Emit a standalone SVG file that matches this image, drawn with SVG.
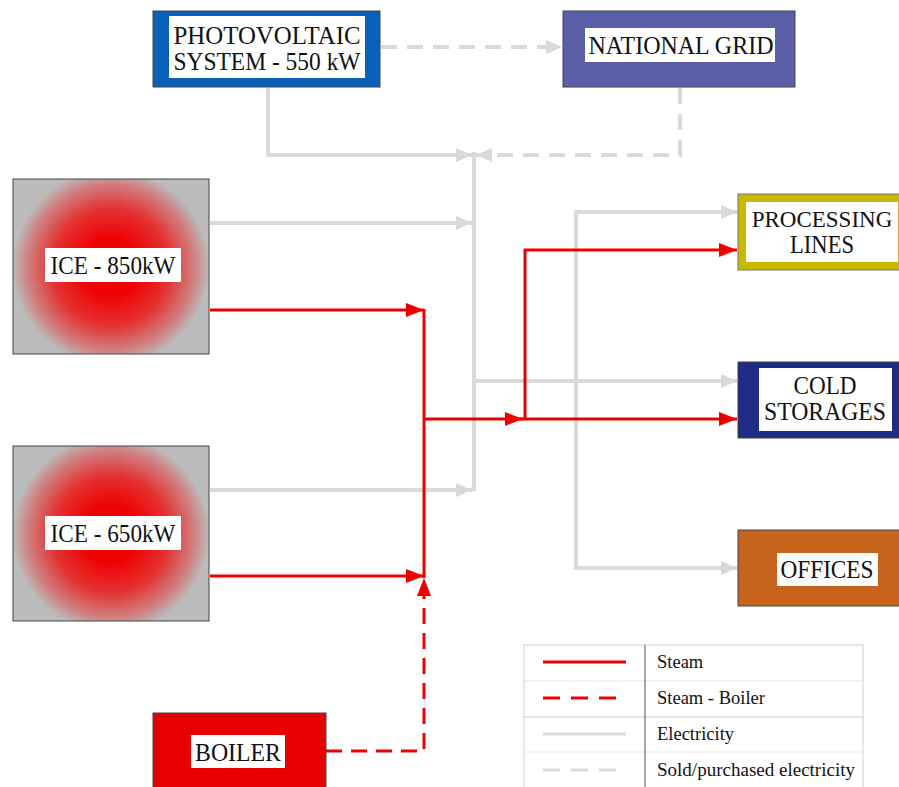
<svg xmlns="http://www.w3.org/2000/svg" width="899" height="787" viewBox="0 0 899 787">
<defs>
<radialGradient id="ice1" gradientUnits="userSpaceOnUse" cx="111" cy="267" r="98">
<stop offset="0" stop-color="#ee0000"/>
<stop offset="0.3" stop-color="#ee0303"/>
<stop offset="0.6" stop-color="#e43232"/>
<stop offset="0.85" stop-color="#d07f7f"/>
<stop offset="1" stop-color="#bbbbbb"/>
</radialGradient>
<radialGradient id="ice2" gradientUnits="userSpaceOnUse" cx="111" cy="534" r="98">
<stop offset="0" stop-color="#ee0000"/>
<stop offset="0.3" stop-color="#ee0303"/>
<stop offset="0.6" stop-color="#e43232"/>
<stop offset="0.85" stop-color="#d07f7f"/>
<stop offset="1" stop-color="#bbbbbb"/>
</radialGradient>
<marker id="ag" viewBox="0 0 16 14" refX="16" refY="7" markerWidth="16" markerHeight="14" markerUnits="userSpaceOnUse" orient="auto">
<path d="M0,0 L16,7 L0,14 Z" fill="#d9d9d9"/>
</marker>
<marker id="ar" viewBox="0 0 18 14" refX="18" refY="7" markerWidth="18" markerHeight="14" markerUnits="userSpaceOnUse" orient="auto">
<path d="M0,0 L18,7 L0,14 Z" fill="#ee0000"/>
</marker>
</defs>
<style>
.box{stroke:#444;stroke-width:1}
.lbl{fill:#fff}
.t{font-family:"Liberation Serif","Times New Roman",serif;font-size:25px;fill:#111;text-anchor:middle}
.lg{font-family:"Liberation Serif","Times New Roman",serif;font-size:18.5px;fill:#111}
.el{fill:none;stroke:#d9d9d9;stroke-width:4}
.eld{fill:none;stroke:#d9d9d9;stroke-width:4;stroke-dasharray:16 10}
.st{fill:none;stroke:#ee0000;stroke-width:3}
.std{fill:none;stroke:#ee0000;stroke-width:3;stroke-dasharray:16 9}
</style>
<rect width="899" height="787" fill="#fff"/>

<g id="connectors">
<path class="eld" d="M381,47 H562" marker-end="url(#ag)"/>
<path class="el" d="M268,88 V155 H472" marker-end="url(#ag)"/>
<path class="eld" d="M680,88 V155 H476" marker-end="url(#ag)"/>
<path class="el" d="M474,152 V491"/>
<path class="el" d="M210,223 H472" marker-end="url(#ag)"/>
<path class="el" d="M210,490 H472" marker-end="url(#ag)"/>
<path class="el" d="M474,381 H737" marker-end="url(#ag)"/>
<path class="el" d="M737,212 H576 V568 H737" marker-end="url(#ag)"/>
<path class="el" d="M576,212 H737" marker-end="url(#ag)"/>
<path class="st" d="M210,310 H424" marker-end="url(#ar)"/>
<path class="st" d="M210,576 H424" marker-end="url(#ar)"/>
<path class="st" d="M424,309 V578"/>
<path class="st" d="M424,419 H523" marker-end="url(#ar)"/>
<path class="st" d="M520,419 H737" marker-end="url(#ar)"/>
<path class="st" d="M525,420 V250 H737" marker-end="url(#ar)"/>
<path class="std" d="M326,751 H424 V578" marker-end="url(#ar)"/>
</g>

<g id="pv">
<rect class="box" x="153" y="11" width="227" height="76" fill="#0a62b8"/>
<rect class="lbl" x="169" y="16" width="196" height="62"/>
<text class="t" x="267" y="44" textLength="187" lengthAdjust="spacingAndGlyphs">PHOTOVOLTAIC</text>
<text class="t" x="267" y="70" textLength="187" lengthAdjust="spacingAndGlyphs">SYSTEM - 550 kW</text>
</g>
<g id="grid">
<rect class="box" x="563" y="11" width="232" height="76" fill="#5a5fa8"/>
<rect class="lbl" x="585" y="28" width="190" height="34"/>
<text class="t" x="681" y="54" textLength="185" lengthAdjust="spacingAndGlyphs">NATIONAL GRID</text>
</g>
<g id="ice850">
<rect class="box" x="13" y="179" width="196" height="175" fill="url(#ice1)"/>
<rect class="lbl" x="45" y="248" width="136" height="34"/>
<text class="t" x="113" y="274" textLength="125" lengthAdjust="spacingAndGlyphs">ICE - 850kW</text>
</g>
<g id="ice650">
<rect class="box" x="13" y="446" width="196" height="175" fill="url(#ice2)"/>
<rect class="lbl" x="45" y="516" width="136" height="34"/>
<text class="t" x="113" y="542" textLength="125" lengthAdjust="spacingAndGlyphs">ICE - 650kW</text>
</g>
<g id="boiler">
<rect class="box" x="153" y="713" width="173" height="80" fill="#e60000"/>
<rect class="lbl" x="191" y="735" width="94" height="33"/>
<text class="t" x="238" y="761" textLength="86" lengthAdjust="spacingAndGlyphs">BOILER</text>
</g>
<g id="processing">
<rect x="738" y="194" width="165" height="76" fill="#c9b800" stroke="#777" stroke-width="1"/>
<rect class="lbl" x="746" y="202" width="152" height="60"/>
<text class="t" x="822" y="227" style="font-size:23px">PROCESSING</text>
<text class="t" x="822" y="253" textLength="64" lengthAdjust="spacingAndGlyphs">LINES</text>
</g>
<g id="cold">
<rect class="box" x="738" y="362" width="165" height="76" fill="#1f2b85"/>
<rect class="lbl" x="759" y="368" width="133" height="63"/>
<text class="t" x="825" y="394" textLength="63" lengthAdjust="spacingAndGlyphs">COLD</text>
<text class="t" x="825" y="420" textLength="122" lengthAdjust="spacingAndGlyphs">STORAGES</text>
</g>
<g id="offices">
<rect class="box" x="738" y="530" width="165" height="76" fill="#c8631b"/>
<rect class="lbl" x="777" y="553" width="101" height="33"/>
<text class="t" x="827" y="578" textLength="93" lengthAdjust="spacingAndGlyphs">OFFICES</text>
</g>

<g id="legend">
<rect x="524" y="645" width="339" height="150" fill="#fff" stroke="#d0d0d0" stroke-width="1"/>
<line x1="524" y1="681" x2="863" y2="681" stroke="#e4e4e4"/>
<line x1="524" y1="717" x2="863" y2="717" stroke="#c8c8c8"/>
<line x1="524" y1="752" x2="863" y2="752" stroke="#e4e4e4"/>
<line x1="645" y1="645" x2="645" y2="787" stroke="#555" stroke-width="1"/>
<line x1="543" y1="662" x2="626" y2="662" stroke="#ee0000" stroke-width="3"/>
<line x1="543" y1="698" x2="626" y2="698" stroke="#ee0000" stroke-width="3" stroke-dasharray="17 11"/>
<line x1="543" y1="734" x2="626" y2="734" stroke="#d9d9d9" stroke-width="3"/>
<line x1="543" y1="770" x2="626" y2="770" stroke="#d9d9d9" stroke-width="3" stroke-dasharray="17 11"/>
<text class="lg" x="657" y="668">Steam</text>
<text class="lg" x="657" y="704">Steam - Boiler</text>
<text class="lg" x="657" y="740">Electricity</text>
<text class="lg" x="657" y="776" textLength="198" lengthAdjust="spacingAndGlyphs">Sold/purchased electricity</text>
</g>
</svg>
